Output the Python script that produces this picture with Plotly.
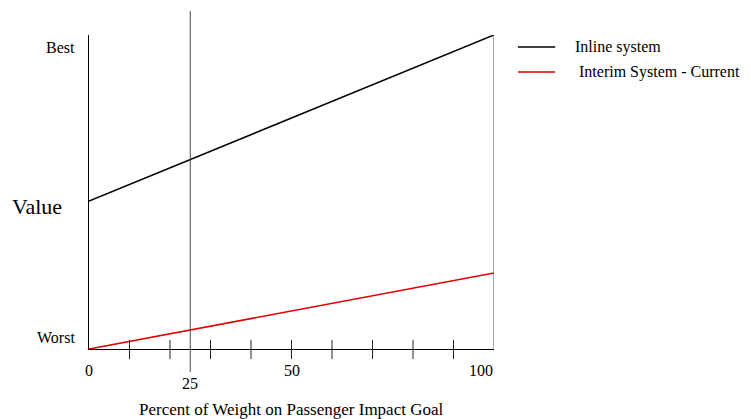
import plotly.graph_objects as go

# chart data
weight_pct = [0, 100]
inline_value = [0.471, 1.0]
interim_value = [0.0, 0.242]
series_names = ["Inline system", " Interim System - Current"]
series_colors = ["black", "#e00000"]

tick_marks = [10, 20, 30, 40, 50, 60, 70, 80, 90]
tick_labels = {0: "0", 25: "25", 50: "50", 100: "100"}
marker_line_x = 25
y_labels = {0: "Worst", 1: "Best"}

FONT = "Liberation Serif, Times New Roman, serif"

fig = go.Figure()
for name, vals, col in zip(series_names, [inline_value, interim_value], series_colors):
    fig.add_trace(go.Scatter(x=weight_pct, y=vals, mode="lines", name=name,
                             line=dict(color=col, width=1.6), showlegend=False))

fig.update_xaxes(range=[0, 100], showgrid=False, zeroline=False, showticklabels=False,
                 showline=True, linecolor="black", linewidth=1)
fig.update_yaxes(range=[0, 1], showgrid=False, zeroline=False, showticklabels=False,
                 showline=True, linecolor="black", linewidth=1)

shapes = []
# right border
shapes.append(dict(type="line", xref="x", yref="paper", x0=100, x1=100, y0=0, y1=1,
                   line=dict(color="#555", width=1)))
# vertical marker at 25
shapes.append(dict(type="line", xref="x", yref="paper", x0=marker_line_x, x1=marker_line_x,
                   y0=-0.073, y1=1.076, line=dict(color="#444", width=1)))
# tick marks crossing the x axis
for t in tick_marks:
    shapes.append(dict(type="line", xref="x", yref="paper", x0=t, x1=t, y0=-0.032, y1=0.029,
                       line=dict(color="#222", width=1)))
# legend lines
for i, col in enumerate(series_colors):
    yy = 1 - (47 + 25 * i - 35) / 314
    shapes.append(dict(type="line", xref="paper", yref="paper", x0=1.059, x1=1.151,
                       y0=yy, y1=yy, line=dict(color=col, width=1.6)))

ann = []
offsets = {0: 0, 25: 0, 50: 0, 100: -13}
for v, txt in tick_labels.items():
    dy = -34 if v == 25 else -21
    ann.append(dict(x=v, y=0, xref="x", yref="y", text=txt, showarrow=False,
                    xshift=offsets[v], yshift=dy, font=dict(size=16)))
for v, txt in y_labels.items():
    ann.append(dict(x=0, y=v, xref="x", yref="y", text=txt, showarrow=False,
                    xanchor="right", xshift=-12, yshift=12 if v == 0 else -12,
                    font=dict(size=16)))
ann.append(dict(x=0, y=0.455, xref="x", yref="y", text="Value", showarrow=False,
                xanchor="right", xshift=-25, font=dict(size=22)))
ann.append(dict(x=50, y=0, xref="x", yref="y", text="Percent of Weight on Passenger Impact Goal",
                showarrow=False, yshift=-60, font=dict(size=17)))
for i, name in enumerate(series_names):
    yy = 1 - (47 + 25 * i - 35) / 314
    ann.append(dict(x=1.196, y=yy, xref="paper", yref="paper", text=name, showarrow=False,
                    xanchor="left", yanchor="middle", font=dict(size=16)))

fig.update_layout(
    width=751, height=419,
    margin=dict(l=89, r=257, t=35, b=70),
    plot_bgcolor="white", paper_bgcolor="white",
    font=dict(family=FONT, color="black"),
    shapes=shapes, annotations=ann,
    showlegend=False,
)

fig.write_html("out.html", config={"displayModeBar": False})

# drop the browser's default body margin so the figure sits at the page corner
with open("out.html") as f:
    page = f.read()
page = page.replace("<body>", '<body style="margin:0">', 1)
with open("out.html", "w") as f:
    f.write(page)
